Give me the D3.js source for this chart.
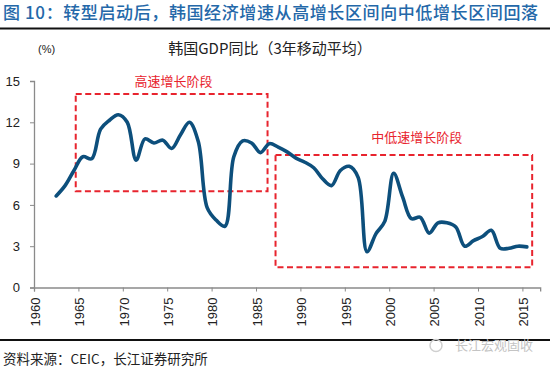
<!DOCTYPE html>
<html>
<head>
<meta charset="utf-8">
<script src="https://cdn.jsdelivr.net/npm/d3@7"></script>
<style>
  html, body { margin: 0; padding: 0; background: #fff; }
  svg { display: block; font-family: "Liberation Sans", Arial, "Noto Sans CJK SC", sans-serif; }
  .cjk { font-family: "Noto Sans CJK SC", "Liberation Sans", sans-serif; }
</style>
</head>
<body>
<svg id="chart" width="550" height="368"></svg>
<script>
// Korea GDP y/y, 3-year moving average (%)
const years = d3.range(1962, 2016);
const gdpAvg = [
  6.65, 7.4, 8.5, 9.5, 9.35, 11.5, 12.15, 12.55, 12.0, 9.25,
  10.8, 10.5, 10.7, 10.1, 11.1, 12.0, 10.6, 5.8, 4.9, 4.45,
  9.5, 10.65, 10.5, 9.8, 10.45, 10.2, 9.85, 9.4, 9.1, 8.7,
  7.9, 7.4, 8.5, 8.8, 8.0, 2.6, 3.9, 4.8, 8.3, 6.6,
  5.0, 5.1, 3.95, 4.7, 4.7, 4.4, 3.0, 3.4, 3.7, 4.15,
  2.85, 2.85, 3.0, 2.95
];
const yTicks = [0, 3, 6, 9, 12, 15];
const xTicks = d3.range(1960, 2016, 5);

// phase boxes: [startYear, endYear, low, high]
const phaseNames = ["高速增长阶段", "中低速增长阶段"];
const phaseBoxes = [[1964.7, 1986.3, 7.0, 14.05], [1987.2, 2016.1, 1.47, 9.62]];
const phaseLabelAt = [[1975.7, 15.0], [2003.1, 10.9]];

const titleText = "图 10：转型启动后，韩国经济增速从高增长区间向中低增长区间回落";
const chartTitle = "韩国GDP同比（3年移动平均）";
const sourceText = "资料来源：CEIC，长江证券研究所";

const svg = d3.select("#chart");

const x = d3.scaleLinear().domain([1960, 2015]).range([34, 522.4]);
const y = d3.scaleLinear().domain([0, 15]).range([287.5, 81]);

// header
svg.append("text")
    .attr("class", "cjk")
    .attr("x", 3).attr("y", 19)
    .attr("font-size", 17).attr("font-weight", 500)
    .attr("fill", "#2468a9")
    .attr("textLength", 535)
    .text(titleText);

svg.append("line")
    .attr("x1", 0).attr("x2", 550).attr("y1", 28.5).attr("y2", 28.5)
    .attr("stroke", "#111").attr("stroke-width", 2);

svg.append("text")
    .attr("x", 38).attr("y", 53)
    .attr("font-size", 11).attr("fill", "#222")
    .text("(%)");

svg.append("text")
    .attr("class", "cjk")
    .attr("x", 270).attr("y", 54)
    .attr("text-anchor", "middle")
    .attr("font-size", 15).attr("fill", "#222")
    .text(chartTitle);

// axes
const yAxis = svg.append("g")
    .attr("transform", `translate(${x(1960)},0)`)
    .call(d3.axisLeft(y).tickValues(yTicks).tickSize(4).tickPadding(10));
yAxis.select(".domain").attr("stroke", "#8a8a8a").attr("stroke-width", 1.3);
yAxis.selectAll(".tick line").attr("stroke", "#8a8a8a");
yAxis.selectAll("text").attr("font-size", 13).attr("fill", "#222")
    .attr("font-family", "Liberation Sans, Arial, sans-serif");

const xAxis = svg.append("g")
    .attr("transform", `translate(0,${y(0)})`)
    .call(d3.axisBottom(x.copy().domain([1960, 2017]).range([x(1960), x(2017)]))
        .tickValues(xTicks).tickSize(4).tickFormat(d3.format("d")));
xAxis.select(".domain").attr("stroke", "#8a8a8a").attr("stroke-width", 1.3);
xAxis.selectAll(".tick line").attr("stroke", "#8a8a8a");
xAxis.selectAll("text")
    .attr("font-size", 13).attr("fill", "#222")
    .attr("font-family", "Liberation Sans, Arial, sans-serif")
    .attr("transform", "rotate(-90)")
    .attr("text-anchor", "end")
    .attr("x", -10).attr("y", 0).attr("dy", "0.4em").attr("dx", 0);

// phase boxes
svg.selectAll("rect.phase")
    .data(phaseBoxes)
    .enter()
    .append("rect")
    .attr("class", "phase")
    .attr("x", d => x(d[0]))
    .attr("y", d => y(d[3]))
    .attr("width", d => x(d[1]) - x(d[0]))
    .attr("height", d => y(d[2]) - y(d[3]))
    .attr("fill", "none")
    .attr("stroke", "#e8242e")
    .attr("stroke-width", 2)
    .attr("stroke-dasharray", "6,3.5");

svg.selectAll("text.phase")
    .data(phaseNames)
    .enter()
    .append("text")
    .attr("class", "phase cjk")
    .attr("x", (d, i) => x(phaseLabelAt[i][0]))
    .attr("y", (d, i) => y(phaseLabelAt[i][1]))
    .attr("dy", "0.36em")
    .attr("text-anchor", "middle")
    .attr("font-size", 13)
    .attr("fill", "#e8242e")
    .text(d => d);

// line
const line = d3.line()
    .x((d, i) => x(years[i] + 0.5))
    .y(d => y(d))
    .curve(d3.curveCatmullRom.alpha(0.5));

svg.append("path")
    .datum(gdpAvg)
    .attr("fill", "none")
    .attr("stroke", "#0d4f7c")
    .attr("stroke-width", 3.6)
    .attr("stroke-linejoin", "round")
    .attr("stroke-linecap", "round")
    .attr("d", line);

// footer
svg.append("line")
    .attr("x1", 0).attr("x2", 550).attr("y1", 340).attr("y2", 340)
    .attr("stroke", "#111").attr("stroke-width", 2);

svg.append("text")
    .attr("class", "cjk")
    .attr("x", 455).attr("y", 350)
    .attr("font-size", 13).attr("fill", "#c4c4c4")
    .text("长江宏观固收");

svg.append("circle")
    .attr("cx", 436).attr("cy", 345.5).attr("r", 6)
    .attr("fill", "none").attr("stroke", "#cfcfcf").attr("stroke-width", 1.5);

svg.append("text")
    .attr("class", "cjk")
    .attr("x", 3).attr("y", 364)
    .attr("font-size", 13.5).attr("fill", "#222")
    .text(sourceText);
</script>
</body>
</html>
